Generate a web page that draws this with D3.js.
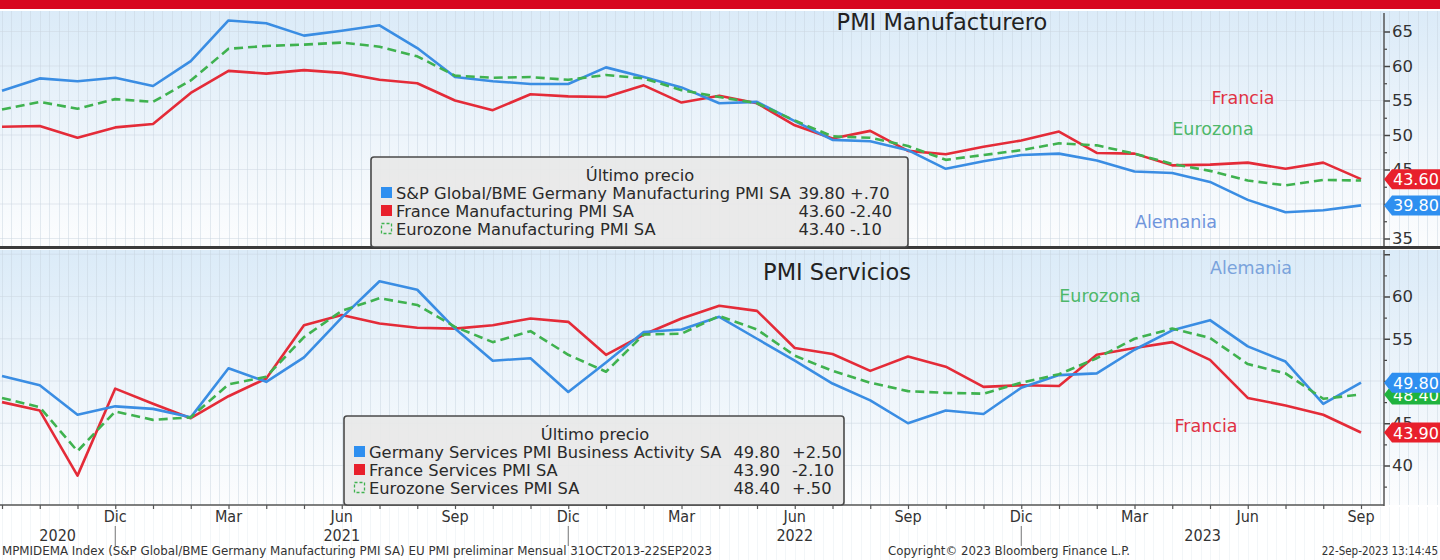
<!DOCTYPE html>
<html><head><meta charset="utf-8">
<script src="https://cdn.jsdelivr.net/npm/d3@7"></script>
<style>body{margin:0;background:#fff;overflow:hidden} svg{display:block}</style>
</head><body>
<svg id="c" width="1440" height="560"></svg>
<script>
// ---------- DATA ----------
const months = ["Sep 2020","Oct 2020","Nov 2020","Dec 2020","Jan 2021","Feb 2021","Mar 2021","Apr 2021","May 2021","Jun 2021","Jul 2021","Aug 2021","Sep 2021","Oct 2021","Nov 2021","Dec 2021","Jan 2022","Feb 2022","Mar 2022","Apr 2022","May 2022","Jun 2022","Jul 2022","Aug 2022","Sep 2022","Oct 2022","Nov 2022","Dec 2022","Jan 2023","Feb 2023","Mar 2023","Apr 2023","May 2023","Jun 2023","Jul 2023","Aug 2023","Sep 2023"];

const germanyMfg  = [56.4,58.2,57.8,58.3,57.1,60.7,66.6,66.2,64.4,65.1,65.9,62.6,58.4,57.8,57.4,57.4,59.8,58.4,56.9,54.6,54.8,52.0,49.3,49.1,47.8,45.1,46.2,47.1,47.3,46.3,44.7,44.5,43.2,40.6,38.8,39.1,39.8];
const franceMfg   = [51.2,51.3,49.6,51.1,51.6,56.1,59.3,58.9,59.4,59.0,58.0,57.5,55.0,53.6,55.9,55.6,55.5,57.2,54.7,55.7,54.6,51.4,49.5,50.6,47.7,47.2,48.3,49.2,50.5,47.4,47.3,45.6,45.7,46.0,45.1,46.0,43.6];
const eurozoneMfg = [53.7,54.8,53.8,55.2,54.8,57.9,62.5,62.9,63.1,63.4,62.8,61.4,58.6,58.3,58.4,58.0,58.7,58.2,56.5,55.5,54.6,52.1,49.8,49.6,48.4,46.4,47.1,47.8,48.8,48.5,47.3,45.8,44.8,43.4,42.7,43.5,43.4];

const germanySrv  = [50.6,49.5,46.0,47.0,46.7,45.7,51.5,49.9,52.8,57.5,61.8,60.8,56.2,52.4,52.7,48.7,52.2,55.8,56.1,57.6,55.0,52.4,49.7,47.7,45.0,46.5,46.1,49.2,50.7,50.9,53.7,56.0,57.2,54.1,52.3,47.3,49.8];
const franceSrv   = [47.5,46.5,38.8,49.1,47.3,45.6,48.2,50.3,56.6,57.8,56.8,56.3,56.2,56.6,57.4,57.0,53.1,55.5,57.4,58.9,58.3,53.9,53.2,51.2,52.9,51.7,49.3,49.5,49.4,53.1,53.9,54.6,52.5,48.0,47.1,46.0,43.9];
const eurozoneSrv = [48.0,46.9,41.7,46.4,45.4,45.7,49.6,50.5,55.2,58.3,59.8,59.0,56.4,54.6,55.9,53.1,51.1,55.5,55.6,57.7,56.1,53.0,51.2,49.8,48.8,48.6,48.5,49.8,50.8,52.7,55.0,56.2,55.1,52.0,50.9,47.9,48.4];

const xTickMonths = ["Dec 2020","Mar 2021","Jun 2021","Sep 2021","Dec 2021","Mar 2022","Jun 2022","Sep 2022","Dec 2022","Mar 2023","Jun 2023","Sep 2023"];
const xTickLabels = ["Dic","Mar","Jun","Sep","Dic","Mar","Jun","Sep","Dic","Mar","Jun","Sep"];
const yearLabels  = ["2020","2021","2022","2023"];
const yearBreaks  = ["Dec 2020","Dec 2021","Dec 2022"];

const topTicks = [35,40,45,50,55,60,65];
const topLabelled = [35,45,50,55,60,65];
const topMinor = [37.5,42.5,47.5,52.5,57.5,62.5];
const botTicks = [40,45,50,55,60,65];
const botLabelled = [40,45,55,60];
const botMinor = [37.5,42.5,47.5,52.5,57.5,62.5];

const mfgNames   = ["S&P Global/BME Germany Manufacturing PMI SA","France Manufacturing PMI SA","Eurozone Manufacturing PMI SA"];
const mfgLast    = ["39.80","43.60","43.40"];
const mfgChange  = ["+.70","-2.40","-.10"];
const srvNames   = ["Germany Services PMI Business Activity SA","France Services PMI SA","Eurozone Services PMI SA"];
const srvLast    = ["49.80","43.90","48.40"];
const srvChange  = ["+2.50","-2.10","+.50"];

// ---------- STYLE ----------
const C = {blue:"#3a8de3", red:"#e42b38", green:"#3fb24f",
           tagBlue:"#2e8ff0", tagRed:"#e8202c", tagGreen:"#1fb33e"};
const F = "'DejaVu Sans', Verdana, sans-serif";
const FC = "'DejaVu Sans Condensed', 'DejaVu Sans', sans-serif";

const svg = d3.select("#c");
const W = 1440, axisX = 1384;
const topP = {y0:11, y1:247};
const botP = {y0:250, y1:505};

const x = d3.scalePoint().domain(months).range([2,1361]);
const yTop = d3.scaleLinear().domain([35,65]).range([238.5,31.5]);
const yBot = d3.scaleLinear().domain([40,60]).range([465.5,296.5]);

// defs
const defs = svg.append("defs");
const g1 = defs.append("linearGradient").attr("id","bg").attr("x1",0).attr("y1",0).attr("x2",0).attr("y2",1);
g1.append("stop").attr("offset","0%").attr("stop-color","#dbebf8");
g1.append("stop").attr("offset","55%").attr("stop-color","#eef5fb");
g1.append("stop").attr("offset","100%").attr("stop-color","#fcfdfe");

// red top bar
svg.append("rect").attr("x",0).attr("y",0).attr("width",W).attr("height",9).attr("fill","#d7061f");

// panel backgrounds
[topP, botP].forEach(p=>{
  svg.append("rect").attr("x",0).attr("y",p.y0).attr("width",W).attr("height",p.y1-p.y0).attr("fill","url(#bg)");
});

// weekly vertical gridlines
const step = x.step();
const grid = svg.append("g").attr("stroke","#c5d2dd").attr("stroke-opacity",0.45).attr("stroke-width",1);
for (let k=-8; k<=36*4+10; k++){
  const gx = Math.round(x(months[0]) + k*step/4) + 0.5;
  if (gx<0 || gx>W) continue;
  [topP, botP].forEach(p=>{
    grid.append("line").attr("x1",gx).attr("x2",gx).attr("y1",p.y0).attr("y2",p.y1);
  });
  grid.append("line").attr("x1",gx).attr("x2",gx).attr("y1",507).attr("y2",560).attr("stroke-opacity",0.2);
}
// faint horizontal gridlines
const hg = svg.append("g").attr("stroke","#cbd6e0").attr("stroke-opacity",0.5);
topTicks.forEach(t=>hg.append("line").attr("x1",0).attr("x2",axisX).attr("y1",yTop(t)).attr("y2",yTop(t)));
botTicks.forEach(t=>hg.append("line").attr("x1",0).attr("x2",axisX).attr("y1",yBot(t)).attr("y2",yBot(t)));

// separator between panels
svg.append("rect").attr("x",0).attr("y",246).attr("width",W).attr("height",3).attr("fill","#3a3a3a");

// titles
svg.append("text").attr("x",942).attr("y",30).attr("text-anchor","middle").attr("font-family",F).attr("font-size",22.5).attr("fill","#222").text("PMI Manufacturero");
svg.append("text").attr("x",837).attr("y",280).attr("text-anchor","middle").attr("font-family",F).attr("font-size",22.5).attr("fill","#222").text("PMI Servicios");

// lines
function drawLines(y, series){
  const line = d3.line().x((d,i)=>x(months[i])).y(d=>y(d));
  series.forEach(s=>{
    svg.append("path").datum(s.data).attr("d",line).attr("fill","none")
      .attr("stroke",s.color).attr("stroke-width",2.6).attr("stroke-linejoin","round")
      .attr("stroke-dasharray",s.dash||null);
  });
}
drawLines(yTop,[{data:franceMfg,color:C.red},{data:germanyMfg,color:C.blue},{data:eurozoneMfg,color:C.green,dash:"9,5"}]);
drawLines(yBot,[{data:franceSrv,color:C.red},{data:germanySrv,color:C.blue},{data:eurozoneSrv,color:C.green,dash:"9,5"}]);

// annotations
function ann(t,xx,yy,col){ svg.append("text").attr("x",xx).attr("y",yy).attr("text-anchor","middle").attr("font-family",F).attr("font-size",17.5).attr("fill",col).text(t); }
ann("Francia",1243,104,"#e03244");
ann("Eurozona",1213,135,"#4db86a");
ann("Alemania",1176,228,"#6f95dc");
ann("Alemania",1251,274,"#7aa3dc");
ann("Eurozona",1100,302,"#4db86a");
ann("Francia",1206,432,"#e03244");

// right axes
function rightAxis(y, ticks, labelled, minor, y0, y1){
  const g = svg.append("g").attr("transform",`translate(${axisX},0)`);
  g.call(d3.axisRight(y).tickValues(ticks).tickSize(6).tickSizeOuter(0)
    .tickFormat(d=>labelled.includes(d)?d3.format("d")(d):""));
  g.select(".domain").remove();
  g.selectAll("text").attr("font-family",F).attr("font-size",16.5).attr("fill","#333").attr("x",8);
  g.selectAll("line").attr("stroke","#444").attr("stroke-width",1.5);
  const gm = svg.append("g").attr("transform",`translate(${axisX},0)`);
  gm.call(d3.axisRight(y).tickValues(minor).tickSize(3).tickFormat(""));
  gm.select(".domain").remove();
  gm.selectAll("line").attr("stroke","#444").attr("stroke-width",1.2);
  svg.append("line").attr("x1",axisX).attr("x2",axisX).attr("y1",y0).attr("y2",y1).attr("stroke","#555").attr("stroke-width",1.5);
}
rightAxis(yTop, topTicks, topLabelled, topMinor, 13, 246);
rightAxis(yBot, botTicks, botLabelled, botMinor, 250, 506);

// bottom x axis
svg.append("line").attr("x1",0).attr("x2",axisX).attr("y1",505).attr("y2",505).attr("stroke","#555").attr("stroke-width",1.5);
const xa = svg.append("g").attr("transform","translate(0,505)");
xa.call(d3.axisBottom(x).tickValues(months).tickSize(4).tickFormat(""));
xa.select(".domain").remove();
xa.selectAll("line").attr("stroke","#555").attr("stroke-width",1.2);
xTickMonths.forEach((m,i)=>{
  svg.append("text").attr("x",x(m)).attr("y",522).attr("text-anchor","middle").attr("font-family",FC).attr("font-size",16).attr("fill","#333").text(xTickLabels[i]);
});
// year separators & labels
const breaksX = yearBreaks.map(m=>x(m));
breaksX.forEach(bx=>svg.append("line").attr("x1",bx).attr("x2",bx).attr("y1",526).attr("y2",546).attr("stroke","#777").attr("stroke-width",1));
const bounds = [0].concat(breaksX).concat([axisX]);
yearLabels.forEach((yl,i)=>{
  svg.append("text").attr("x",(bounds[i]+bounds[i+1])/2).attr("y",541).attr("text-anchor","middle").attr("font-family",FC).attr("font-size",16).attr("fill","#333").text(yl);
});

// footer
svg.append("text").attr("x",2).attr("y",555).attr("font-family",FC).attr("font-size",11.5).attr("fill","#333")
  .attr("textLength",710).attr("lengthAdjust","spacingAndGlyphs")
  .text("MPMIDEMA Index (S&P Global/BME Germany Manufacturing PMI SA) EU PMI preliminar  Mensual 31OCT2013-22SEP2023");
svg.append("text").attr("x",1009).attr("y",555).attr("text-anchor","middle").attr("font-family",FC).attr("font-size",11.5).attr("fill","#333")
  .attr("textLength",242).attr("lengthAdjust","spacingAndGlyphs").text("Copyright\u00A9 2023 Bloomberg Finance L.P.");
svg.append("text").attr("x",1438).attr("y",555).attr("text-anchor","end").attr("font-family",FC).attr("font-size",11.5).attr("fill","#333")
  .text("22-Sep-2023 13:14:45");

// legends
function legend(bx,by,bw,bh,titleX,rowsY,names,last,chg,lastEnd,chgStart,fs){
  const g = svg.append("g");
  g.append("rect").attr("x",bx).attr("y",by).attr("width",bw).attr("height",bh).attr("rx",3)
    .attr("fill","#e8e8e8").attr("fill-opacity",0.93).attr("stroke","#4a4a4a").attr("stroke-width",1.6);
  g.append("text").attr("x",titleX).attr("y",by+24).attr("text-anchor","middle").attr("font-family",F).attr("font-size",fs).attr("fill","#2a2a2a").text("Último precio");
  const cols=[C.tagBlue,C.tagRed,C.green];
  names.forEach((n,i)=>{
    const ry = rowsY[i];
    if(i<2) g.append("rect").attr("x",bx+10).attr("y",ry-6).attr("width",11).attr("height",11).attr("fill",cols[i]);
    else g.append("rect").attr("x",bx+10.5).attr("y",ry-5.5).attr("width",10).attr("height",10).attr("fill","none").attr("stroke",cols[i]).attr("stroke-width",1.3).attr("stroke-dasharray","3,2");
    g.append("text").attr("x",bx+25).attr("y",ry+5.5).attr("font-family",F).attr("font-size",fs).attr("fill","#2a2a2a").text(n);
    g.append("text").attr("x",lastEnd).attr("y",ry+5.5).attr("text-anchor","end").attr("font-family",F).attr("font-size",fs).attr("fill","#2a2a2a").text(last[i]);
    g.append("text").attr("x",chgStart).attr("y",ry+5.5).attr("font-family",F).attr("font-size",fs).attr("fill","#2a2a2a").text(chg[i]);
  });
}
legend(371,157,537,90,640,[193,211,229],mfgNames,mfgLast,mfgChange,845,850,16.3);
legend(344,416,500,89,595,[452,470,488],srvNames,srvLast,srvChange,780,792,16.3);

// value tags on right axis
function tag(y, v, col){
  const cy = y(v), h=20, tx=axisX;
  svg.append("path").attr("d",`M${tx},${cy} L${tx+8},${cy-h/2} L${W},${cy-h/2} L${W},${cy+h/2} L${tx+8},${cy+h/2} Z`).attr("fill",col);
  svg.append("text").attr("x",tx+9).attr("y",cy+6).attr("font-family",F).attr("font-size",16).attr("fill","#fff").text(v.toFixed(2));
}
tag(yTop, franceMfg[franceMfg.length-1], C.tagRed);
tag(yTop, germanyMfg[germanyMfg.length-1], C.tagBlue);
tag(yBot, eurozoneSrv[eurozoneSrv.length-1], C.tagGreen);
tag(yBot, germanySrv[germanySrv.length-1], C.tagBlue);
tag(yBot, franceSrv[franceSrv.length-1], C.tagRed);
</script>
</body></html>
